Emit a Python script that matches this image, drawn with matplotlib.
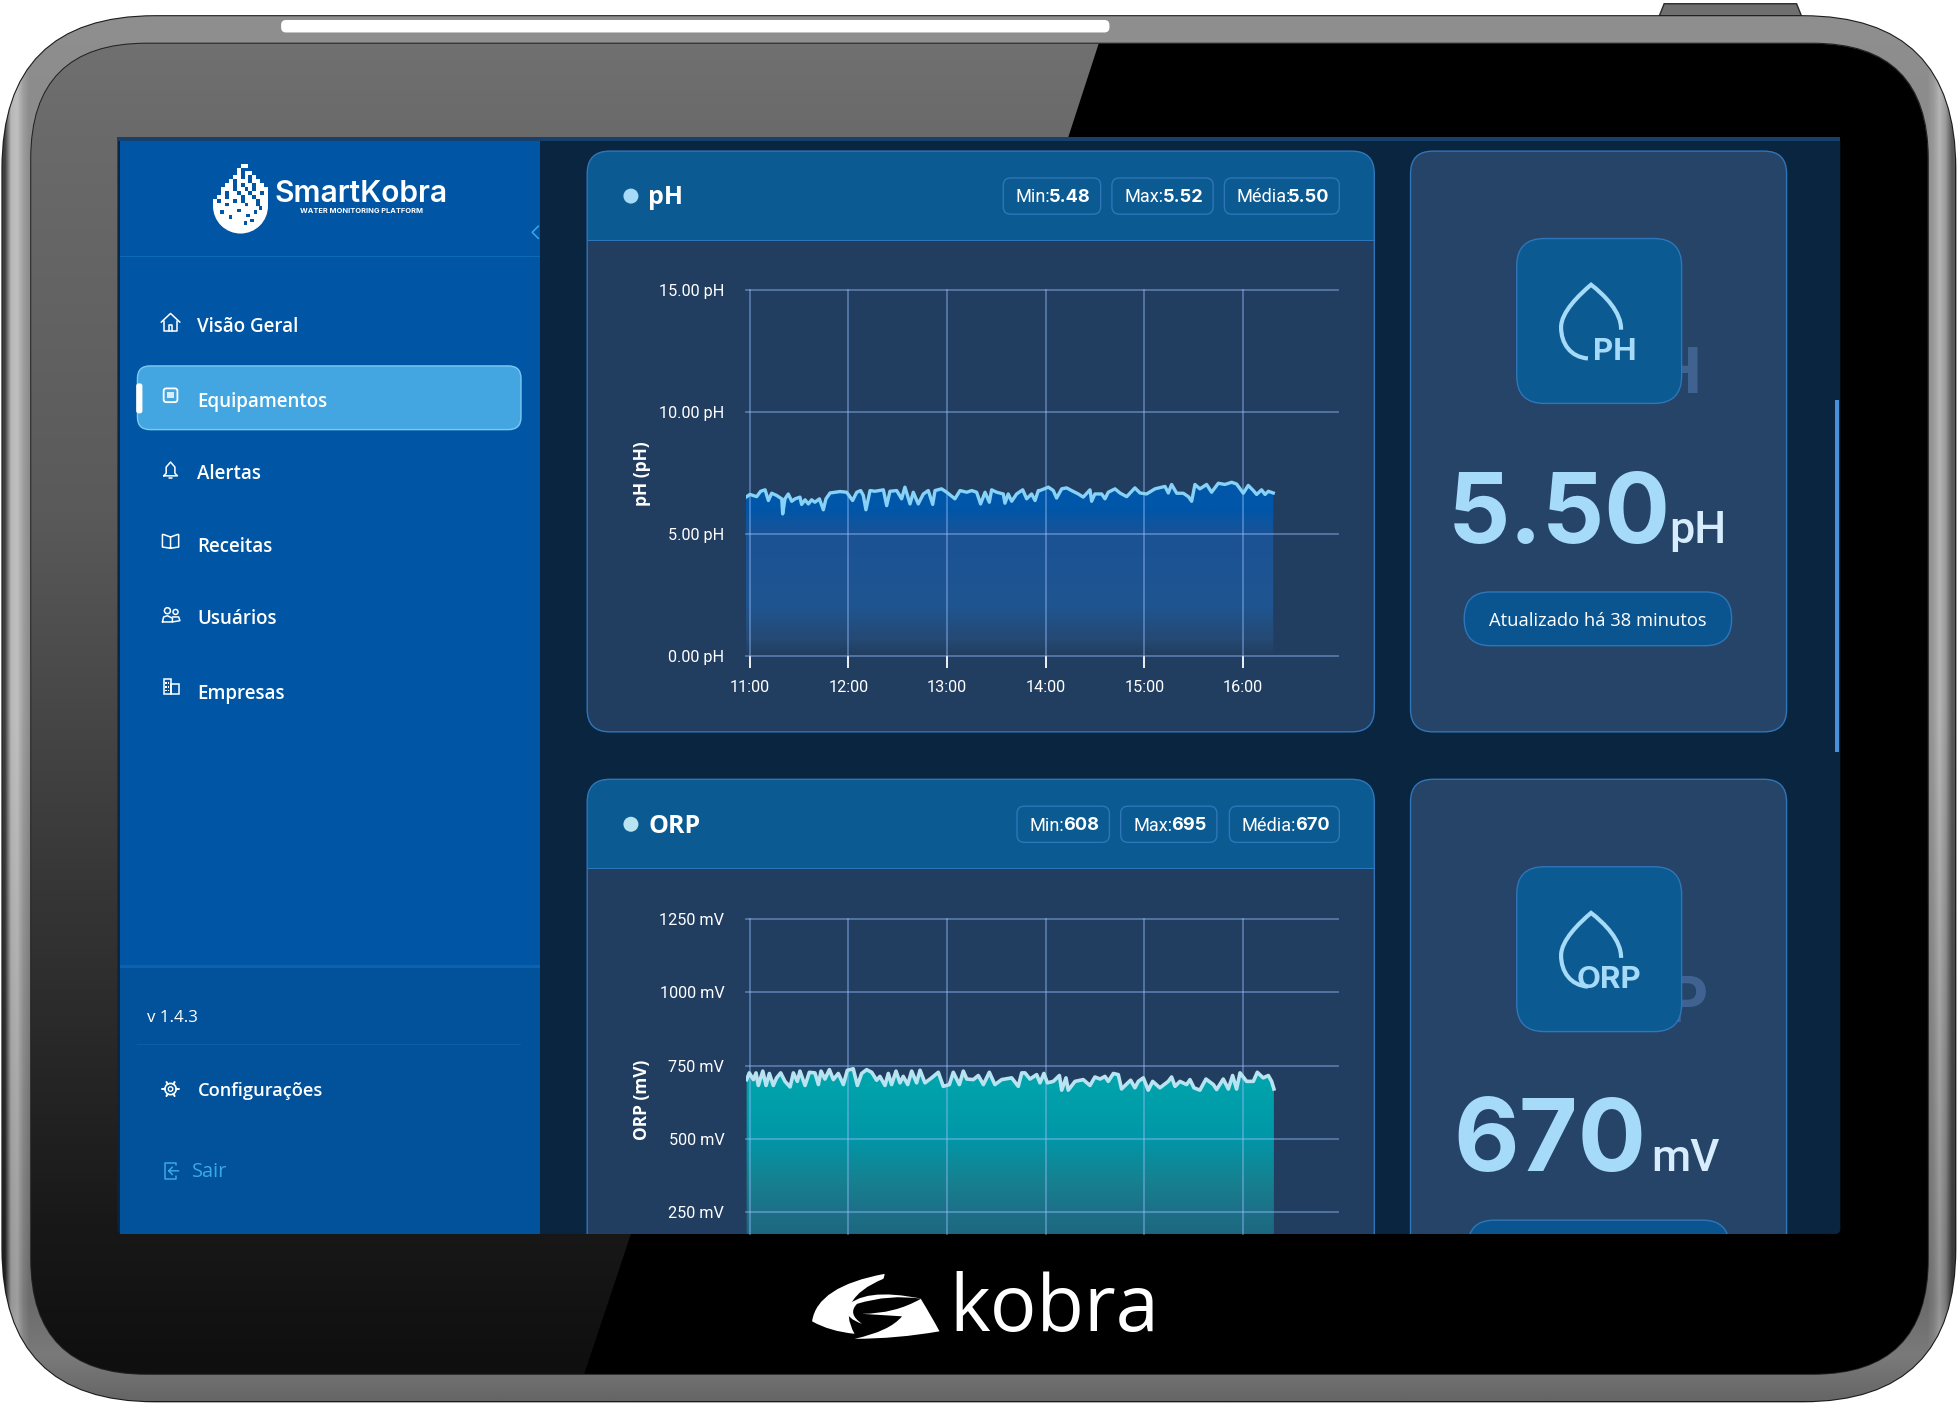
import numpy as np
import matplotlib
matplotlib.use("Agg")
import matplotlib.pyplot as plt
from matplotlib.patches import FancyBboxPatch, Rectangle, Polygon, Circle, PathPatch, Wedge
from matplotlib.path import Path
from matplotlib.colors import to_rgb

# ---------- data ----------
hour_labels = ["11:00", "12:00", "13:00", "14:00", "15:00", "16:00"]
hour_minutes = [0, 60, 120, 180, 240, 300]

ph_ticks = [0, 5, 10, 15]
ph_tick_labels = ["0.00 pH", "5.00 pH", "10.00 pH", "15.00 pH"]
orp_ticks = [250, 500, 750, 1000, 1250]
orp_tick_labels = ["250 mV", "500 mV", "750 mV", "1000 mV", "1250 mV"]

ph_minutes = [-2.2, 0.2, 4.3, 6.7, 9.4, 11.4, 13.4, 16.4, 19.5, 20.1, 21.5, 23.5, 25.6, 27.6, 30.6, 31.6, 33.7,
              35.7, 37.7, 39.7, 42.4, 44.8, 46.4, 48.9, 55, 59, 62.6, 65.1, 67.5, 69.1, 70.7, 73.2, 76.2, 81.3,
              83.3, 85.3, 89.4, 92.4, 94.4, 97.5, 99.5, 102.5, 105.6, 108.6, 111.3, 112.7, 116.7, 119.8, 124.8,
              127.9, 132, 135, 138, 140.4, 143.1, 145.7, 147.1, 150.2, 154.2, 155.2, 157.2, 159.3, 162.3, 166,
              168.4, 171.4, 173.5, 175.5,
              176.5, 181.6, 184.6, 186.6, 189.7, 192.7, 195.7, 199.8, 202.8, 206.9, 207.9, 209.9, 214, 216, 218,
              222.1, 225.1, 229.2, 234.2, 237.3, 241.3, 246.4, 252.5, 254.5, 256.5, 259.6, 263.6, 266.7, 268.7,
              270.7, 273.7, 277.8, 280.8, 284.9, 288.9, 293, 296, 300.1, 303.1, 306.2, 308.2, 311.2, 313.3,
              315.3, 318.3]
ph_values = [6.51, 6.62, 6.53, 6.75, 6.81, 6.37, 6.67, 6.58, 6.44, 5.82, 6.44, 6.64, 6.34, 6.44, 6.51, 6.21, 6.40,
             6.23, 6.40, 6.30, 6.44, 5.99, 6.44, 6.68, 6.74, 6.71, 6.37, 6.71, 6.78, 6.58, 5.99, 6.78, 6.75, 6.81,
             6.16, 6.75, 6.78, 6.44, 6.92, 6.23, 6.71, 6.23, 6.64, 6.78, 6.21, 6.78, 6.85, 6.71, 6.44,
             6.78, 6.71, 6.78, 6.71, 6.23, 6.71, 6.30, 6.81, 6.71, 6.64, 6.26, 6.64, 6.34, 6.64, 6.81,
             6.44, 6.64, 6.37, 6.78,
             6.78, 6.92, 6.78, 6.47, 6.85, 6.89, 6.78, 6.64, 6.51, 6.81, 6.34, 6.64, 6.64, 6.44, 6.71,
             6.85, 6.68, 6.53, 6.89, 6.68, 6.64, 6.85, 6.95, 6.68, 7.03, 6.67, 6.67, 6.53, 6.34,
             7.03, 6.85, 7.03, 6.71, 7.08, 7.03, 7.12, 7.05, 6.67, 6.99, 6.78, 6.62, 6.81, 6.62,
             6.75, 6.68]

orp_minutes = [-1.8, -0.2, 2.3, 3.9, 5.3, 8, 10, 12, 14.4, 16.4, 18.9, 21.5, 24.6, 26.6, 29, 30.6, 33.7, 36.3, 39.7,
               41.8, 43.4, 45.8, 48.5, 50.9, 53.9, 57, 59.4, 63, 65.5, 68.1, 71.1, 74.2, 77.2, 79.2, 82.3, 84.3,
               86.3, 89, 91.4, 93.4, 96.1, 98.5, 101.5, 103.6, 106.6, 110.6, 114.7, 117.7, 121.4, 123.8, 127.5,
               129.9, 132, 136, 139, 142.1, 145.7, 149.1, 153.2, 159.3, 163.3, 165.4, 167.4, 170.4, 174.5,
               176.5, 178.9, 181, 184.6, 188.3, 189.7, 192.3, 193.7, 197.8, 202.8, 206.9, 209.9, 213, 216, 218,
               221.1, 224.1, 226.1, 228.8, 231.6, 234.2, 236.3, 239.3, 242.3, 245, 249.4, 254.5, 256.5, 258.6,
               261.6, 265.6, 267.7, 270.1, 273.7, 277.4, 281.9, 283.9, 287.9, 291, 293.6, 296, 298.1, 302.1,
               306.2, 308.6, 312.2, 315.3, 317.3, 318.7]
orp_values = [702, 725, 702, 725, 682, 731, 682, 723, 682, 708, 725, 696, 677, 725, 696, 731, 682, 727, 725,
              685, 731, 704, 736, 702, 723, 685, 734, 739, 682, 723, 736, 727, 700, 713, 682, 723,
              685, 731, 691, 713, 685, 731, 691, 734, 691, 708, 727, 679, 685, 727, 685,
              731, 704, 702, 716, 685, 727, 685, 702, 708, 679, 725, 725, 704, 719,
              691, 723, 691, 696, 716, 666, 708, 666, 696, 702, 682, 711, 704, 713, 696,
              723, 719, 670, 685, 700, 674, 696, 708, 666, 696, 674, 696, 711, 679,
              696, 685, 702, 674, 666, 704, 685, 668, 704, 670, 716, 670, 725, 696,
              696, 727, 708, 716, 696, 670]

nav_items = ["Visão Geral", "Equipamentos", "Alertas", "Receitas", "Usuários", "Empresas"]
ph_stats = [("Min:", "5.48"), ("Max:", "5.52"), ("Média:", "5.50")]
orp_stats = [("Min:", "608"), ("Max:", "695"), ("Média:", "670")]

# ---------- colours ----------
SIDEBAR = "#0056A5"
SIDEBAR_LOW = "#01529A"
MAIN = "#0A2540"
HEADER = "#0B5A92"
BODY = "#213E60"
CARD = "#254468"
BORDER = "#2F75B9"
ACTIVE = "#44A6E0"
VALUE = "#A5DAF8"
UNIT = "#D7ECFC"
SAIR = "#3AA8E8"

W, H = 1568.0, 1125.0
UI = "Open Sans"
TICK = "Roboto"
HEAD = "Inter"

fig = plt.figure(figsize=(19.59, 14.05), dpi=100, facecolor="white")
bg = fig.add_axes([0, 0, 1, 1])
bg.set_xlim(0, W)
bg.set_ylim(H, 0)
bg.axis("off")

screen_clip = Rectangle((94, 110), 1379, 878, transform=bg.transData)


def rr(x0, y0, x1, y1, r, fc, ec="none", lw=0, z=1, clip=True, alpha=None):
    p = FancyBboxPatch((x0 + r, y0 + r), x1 - x0 - 2 * r, y1 - y0 - 2 * r,
                       boxstyle=f"round,pad={r},rounding_size={r}", fc=fc, ec=ec, lw=lw, zorder=z, alpha=alpha)
    bg.add_patch(p)
    if clip:
        p.set_clip_path(screen_clip)
    return p


def rect(x0, y0, x1, y1, fc, z=1, clip=True, alpha=None):
    p = Rectangle((x0, y0), x1 - x0, y1 - y0, fc=fc, ec="none", zorder=z, alpha=alpha)
    bg.add_patch(p)
    if clip:
        p.set_clip_path(screen_clip)
    return p


def T(x, y, s, size, color="white", ha="left", va="center", weight="normal", family=UI, z=8, **kw):
    return bg.text(x, y, s, fontsize=size * 0.9, color=color, ha=ha, va=va, fontweight=weight, family=family,
                   zorder=z, **kw)


def grad(stops, n=256):
    ys, cs = zip(*stops)
    cs = np.array([to_rgb(c) for c in cs])
    t = np.linspace(0, 1, n)
    return np.stack([np.interp(t, ys, cs[:, i]) for i in range(3)], axis=-1)[:, None, :]


def stroke(points, color="white", lw=1.1, z=9):
    xs, ys = zip(*points)
    bg.plot(xs, ys, color=color, lw=lw, zorder=z, solid_capstyle="round", solid_joinstyle="round")


def blob(moves, fc="white", z=5):
    codes = [Path.MOVETO] + [Path.CURVE3] * (len(moves) - 1)
    bg.add_patch(PathPatch(Path(moves, codes), fc=fc, ec="none", zorder=z))


# ---------- device ----------
outer = rr(2, 13, 1565, 1122, 122, "#8a8a8a", ec="#1c1c1c", lw=1.6, z=1, clip=False)
rim = np.zeros((220, 320, 3))
rim_v = np.interp(np.linspace(0, 1, 220), [0, .06, .5, .93, .97, 1], [.56, .55, .55, .42, .48, .40])
rim_h = np.interp(np.linspace(0, 1, 320), [0, .004, .011, .989, .995, 1], [.2, .80, .5, .5, .7, .3])
rim[:, :, :] = ((rim_v[:, None] + rim_h[None, :] - .5).clip(0, 1))[:, :, None]
im = bg.imshow(rim, extent=[2, 1565, 1122, 13], aspect="auto", zorder=1.1, interpolation="bilinear")
im.set_clip_path(outer)
rr(225, 16, 888, 26, 4, "white", z=1.5, clip=False)
bg.add_patch(Polygon([(1328, 13), (1332, 3), (1438, 3), (1442, 13)], fc="#6f6f6f", ec="#2a2a2a", lw=1, zorder=0.9))

inner = rr(25, 35, 1543, 1100, 92, "#000000", ec="#222222", lw=1.5, z=2, clip=False)
glass = bg.imshow(grad([(0, "#707070"), (.07, "#6a6a6a"), (.35, "#5a5a5a"), (.62, "#383838"), (.89, "#181818"),
                        (1, "#0f0f0f")]),
                  extent=[25, 1543, 1100, 35], aspect="auto", zorder=2.1)
glass.set_clip_path(inner)
shade = Polygon([(881, 30), (1550, 30), (1550, 1105), (466, 1105), (505, 988), (855, 110)], fc="black", ec="none",
                zorder=2.2)
bg.add_patch(shade)
shade.set_clip_path(inner)

# ---------- bottom logo ----------
T(760, 1049, "kobra", 62, ha="left", family="Open Sans", weight="medium", z=5)
blob([(650, 1058), (654, 1030), (708, 1020), (708, 1022), (707, 1024), (668, 1040), (684, 1068), (664, 1066), (650, 1058)])
blob([(676, 1048), (690, 1030), (738, 1040), (712, 1036), (686, 1044), (678, 1052), (690, 1060), (678, 1056), (676, 1048)])
blob([(690, 1052), (716, 1052), (737, 1040), (745, 1053), (752, 1066), (718, 1072), (684, 1072), (712, 1066), (722, 1054), (706, 1053), (690, 1052)])

# ---------- screen ----------
rr(94, 110, 1473, 988, 4, MAIN, z=3, clip=False)
rect(94, 110, 1473, 113, "#17406B", z=3.1)
rect(96, 113, 432, 988, SIDEBAR, z=3.2)
rect(96, 774, 432, 988, SIDEBAR_LOW, z=3.3)
rect(96, 773, 432, 775, "#0A63AF", z=3.4)
rect(96, 205, 432, 206, "#0A6AB8", z=3.4)
rect(110, 836, 417, 837, "#0A5DA8", z=3.4)
rect(1469, 320, 1472, 602, "#4A90D9", z=3.4)
stroke([(431, 181), (426, 186), (431, 191)], color=SAIR, lw=1.1, z=4)

# logo droplet
bg.add_patch(Wedge((192.5, 165), 22, 0, 180, fc="white", ec="none", zorder=5))
mask = [".......##.....",
        "......#.......",
        "......#.##....",
        ".....##.#.#...",
        "....#.###.##..",
        "...##.#.##.##.",
        "..###.##.#.###",
        "..#.##.##.##.#",
        ".##.###.##.###",
        "#.###.#.###.##",
        "###.####.##.##"]
cell = 3.15
for i, row in enumerate(mask):
    for j, c in enumerate(row):
        if c == "#":
            rect(170.5 + j * cell, 131 + i * cell, 170.5 + (j + 1) * cell, 131 + (i + 1) * cell, "white", z=5)
for (hx, hy) in [(176, 168), (183, 172), (190, 167), (197, 171), (203, 168), (200, 175), (195, 177), (207, 165)]:
    rect(hx, hy, hx + 3, hy + 3, SIDEBAR, z=5.5)
T(220, 155.5, "SmartKobra", 24, weight="semibold", family=HEAD)
T(240, 169, "WATER MONITORING PLATFORM", 6.0, weight="bold", family=HEAD)

# nav
nav_y = [262, 321.5, 379.5, 438, 496, 555.5]
rr(110, 293, 417, 344, 10, ACTIVE, ec="#7CC8F2", lw=1, z=4)
rr(109, 307, 114, 331, 2, "white", z=5)
for s, y in zip(nav_items, nav_y):
    T(158, y, s, 15.0, weight="semibold")

# nav icons
stroke([(129, 258), (136.5, 251), (144, 258)])
stroke([(131, 257), (131, 265), (142, 265), (142, 257)])
stroke([(135, 265), (135, 260), (138, 260), (138, 265)])
rr(131, 311, 142, 322, 2, "none", ec="white", lw=1.3, z=9)
rect(134, 314, 139, 319, "white", z=9, alpha=.8)
stroke([(131, 381), (133, 379), (133, 374), (136.5, 370), (140, 374), (140, 379), (142, 381), (131, 381)])
stroke([(135, 382.5), (138, 382.5)])
stroke([(136.5, 430), (131, 428), (130, 428), (130, 438), (136.5, 439), (143, 438), (143, 428), (142, 428), (136.5, 430), (136.5, 439)])
bg.add_patch(Circle((134, 489), 2.4, fc="none", ec="white", lw=1.1, zorder=9))
bg.add_patch(Circle((140.5, 490), 2.0, fc="none", ec="white", lw=1.1, zorder=9))
stroke([(130, 498), (131, 494), (134, 493), (138, 495), (138, 498), (130, 498)])
stroke([(138, 494), (143, 494), (144, 497), (138, 498)])
rect(131, 544, 137, 556, "none", z=9).set(ec="white", lw=1.1)
rect(137, 548, 143, 556, "none", z=9).set(ec="white", lw=1.1)
for gx in (133, 135):
    for gy in (547, 550, 553):
        rect(gx - .6, gy - .6, gx + .6, gy + .6, "white", z=9)
bg.add_patch(Circle((136.5, 872), 4.5, fc="none", ec="white", lw=1.2, zorder=9))
bg.add_patch(Circle((136.5, 872), 1.8, fc="none", ec="white", lw=1.0, zorder=9))
for a in np.deg2rad([0, 60, 120, 180, 240, 300]):
    stroke([(136.5 + 4.5 * np.cos(a), 872 + 4.5 * np.sin(a)), (136.5 + 6.5 * np.cos(a), 872 + 6.5 * np.sin(a))], lw=1.4)
stroke([(141, 933), (141, 931), (132, 931), (132, 944), (141, 944), (141, 942)], color=SAIR)
stroke([(143, 937.5), (135, 937.5), (138, 934.5)], color=SAIR)
stroke([(135, 937.5), (138, 940.5)], color=SAIR)

T(118, 815, "v 1.4.3", 13.5, weight="medium")
T(158, 873.5, "Configurações", 14.6, weight="semibold")
T(154, 938.5, "Sair", 16, color=SAIR)


# ---------- panels ----------
def panel(y_top, y_bot, title, dot, stats, boxes):
    body = rr(470, y_top, 1100, y_bot, 18, BODY, z=4)
    head = Rectangle((470, y_top), 630, 71, fc=HEADER, ec="none", zorder=4.1)
    bg.add_patch(head)
    head.set_clip_path(body.get_path(), body.get_transform())
    rect(470, y_top + 71, 1100, y_top + 72, BORDER, z=4.2)
    rr(470, y_top, 1100, y_bot, 18, "none", ec=BORDER, lw=1, z=4.3)
    cy = y_top + 36
    bg.add_patch(Circle((505, cy), 6, fc=dot, ec="none", zorder=5))
    T(519, cy + 1.5, title, 20, weight="bold", family=UI)
    for (lab, val), (bx0, bx1) in zip(stats, boxes):
        rr(bx0, cy - 14.5, bx1, cy + 14.5, 6, "none", ec=BORDER, lw=1, z=5)
        T(bx0 + 10, cy + 1, lab, 14.5, family=TICK)
        T(bx1 - 8, cy + 1, val, 14.5, ha="right", weight="bold", family=HEAD)


def card(y_top, y_bot, ghost, ghost_x, ghost_base, icon_text, icon_x, value, val_x0, val_size, unit, unit_x,
         pill_x0, pill_x1):
    rr(1129, y_top, 1430, y_bot, 18, CARD, ec=BORDER, lw=1, z=4)
    T(ghost_x, ghost_base, ghost, 51, color="#3F6290", ha="right", va="baseline", weight="bold", family=HEAD, z=4.5)
    rr(1214, y_top + 70, 1346, y_top + 202, 22, HEADER, ec=BORDER, lw=1, z=5)
    o = y_top + 70 - 191
    drop = Path([(1271, 287 + o), (1257, 286 + o), (1249.5, 275 + o), (1249.5, 262 + o),
                 (1249.5, 250 + o), (1264, 236 + o), (1273.5, 228 + o),
                 (1284, 236 + o), (1298, 250 + o), (1297.5, 264 + o)],
                [Path.MOVETO, Path.CURVE4, Path.CURVE4, Path.CURVE4, Path.CURVE4, Path.CURVE4, Path.CURVE4,
                 Path.CURVE4, Path.CURVE4, Path.CURVE4])
    bg.add_patch(PathPatch(drop, fc="none", ec=VALUE, lw=3.0, zorder=6, capstyle="butt", joinstyle="miter"))
    T(icon_x, 288 + o, icon_text, 25, color=VALUE, va="baseline", weight="bold", family=HEAD, z=6)
    base = y_top + 314
    T(val_x0, base, value, val_size, color=VALUE, va="baseline", weight="bold", family=HEAD, z=6)
    T(unit_x, base, unit, 36, color=UNIT, va="baseline", weight="medium", family=TICK, z=6)
    rr(pill_x0, y_top + 353, pill_x1, y_top + 396, 21, "#0A5590", ec=BORDER, lw=1, z=5)
    if y_top < 300:
        T((pill_x0 + pill_x1) / 2, y_top + 376.5, "Atualizado há 38 minutos", 14.7, ha="center", z=6)


panel(121, 586, "pH", VALUE, ph_stats, [(803, 881), (890, 971), (980, 1072)])
panel(624, 1120, "ORP", "#B8E4F2", orp_stats, [(814, 888), (897, 974), (984, 1072)])
card(121, 586, "H", 1362, 315, "PH", 1275, "5.50", 1159, 78, "pH", 1336, 1172, 1386)
card(624, 1120, "P", 1367, 818, "ORP", 1262, "670", 1163, 81, "mV", 1322, 1175, 1384)


# ---------- charts ----------
def chart(top, bot, ylim, yticks, ylabels, minutes, values, line_color, line_w, stops, ylabel, label_y, show_x):
    ax = fig.add_axes([597 / W, 1 - bot / H, (1071 - 597) / W, (bot - top) / H], zorder=5)
    ax.patch.set_alpha(0)
    for s in ax.spines.values():
        s.set_visible(False)
    xlim = (-2.28, 357.7)
    ax.set_xlim(*xlim)
    ax.set_ylim(*ylim)
    ax.set_axisbelow(False)
    ax.grid(True, color=(.60, .75, 1.0), alpha=.45, lw=1.3, zorder=2.5)
    for g in ax.get_xgridlines() + ax.get_ygridlines():
        g.set_clip_on(False)
    ys, cs, al = zip(*stops)
    t = np.linspace(1, 0, 256)
    top_v = max(ys)
    low_v = min(ys)
    vals = low_v + (top_v - low_v) * t
    rgba = np.zeros((256, 1, 4))
    rgb = np.array([to_rgb(c) for c in cs])
    for i in range(3):
        rgba[:, 0, i] = np.interp(vals, ys, rgb[:, i])
    rgba[:, 0, 3] = np.interp(vals, ys, al)
    im = ax.imshow(rgba, extent=[xlim[0], xlim[1], low_v, top_v], aspect="auto", zorder=1, interpolation="bilinear")
    verts = [(minutes[0], ylim[0])] + list(zip(minutes, values)) + [(minutes[-1], ylim[0])]
    im.set_clip_path(Polygon(verts, transform=ax.transData))
    ax.set_xlim(*xlim)
    ax.set_ylim(*ylim)
    ax.plot(minutes, values, color=line_color, lw=line_w, zorder=3, solid_joinstyle="round")
    ax.set_yticks(yticks)
    ax.set_yticklabels(ylabels, fontsize=11.7, color="white", family=TICK)
    ax.tick_params(axis="y", length=0, pad=15.5)
    ax.set_xticks(hour_minutes)
    if show_x:
        ax.set_xticklabels(hour_labels, fontsize=11.7, color="white", family=TICK)
        ax.tick_params(axis="x", length=8.5, width=1.3, color="white", pad=9)
    else:
        ax.tick_params(axis="x", length=0, labelbottom=False)
    ax.set_ylabel(ylabel, fontsize=12.5, color="white", fontweight="bold", family=UI)
    ax.yaxis.set_label_coords((521 - 597) / (1071 - 597), (bot - label_y) / (bot - top))
    return ax


chart(232.5, 525, (0, 15), ph_ticks, ph_tick_labels, ph_minutes, ph_values, "#86D2F8", 2.4,
      [(0, "#264A75", 0.0), (0.7, "#264C78", 0.9), (2, "#1F5590", 1), (5, "#1A5295", 1), (5.4, "#0F559E", 1),
       (6.0, "#0056A8", 1), (7.2, "#0056A8", 1)],
      "pH (pH)", 379, True)
chart(736, 988, (175, 1250), orp_ticks, orp_tick_labels, orp_minutes, orp_values, "#B8E4F2", 2.6,
      [(175, "#1C6880", 1), (250, "#1D7088", 1), (350, "#17808F", 1), (500, "#0097A8", 1), (740, "#00A6AD", 1)],
      "ORP (mV)", 881, False)

fig.savefig("out.png", dpi=100, facecolor="white")
